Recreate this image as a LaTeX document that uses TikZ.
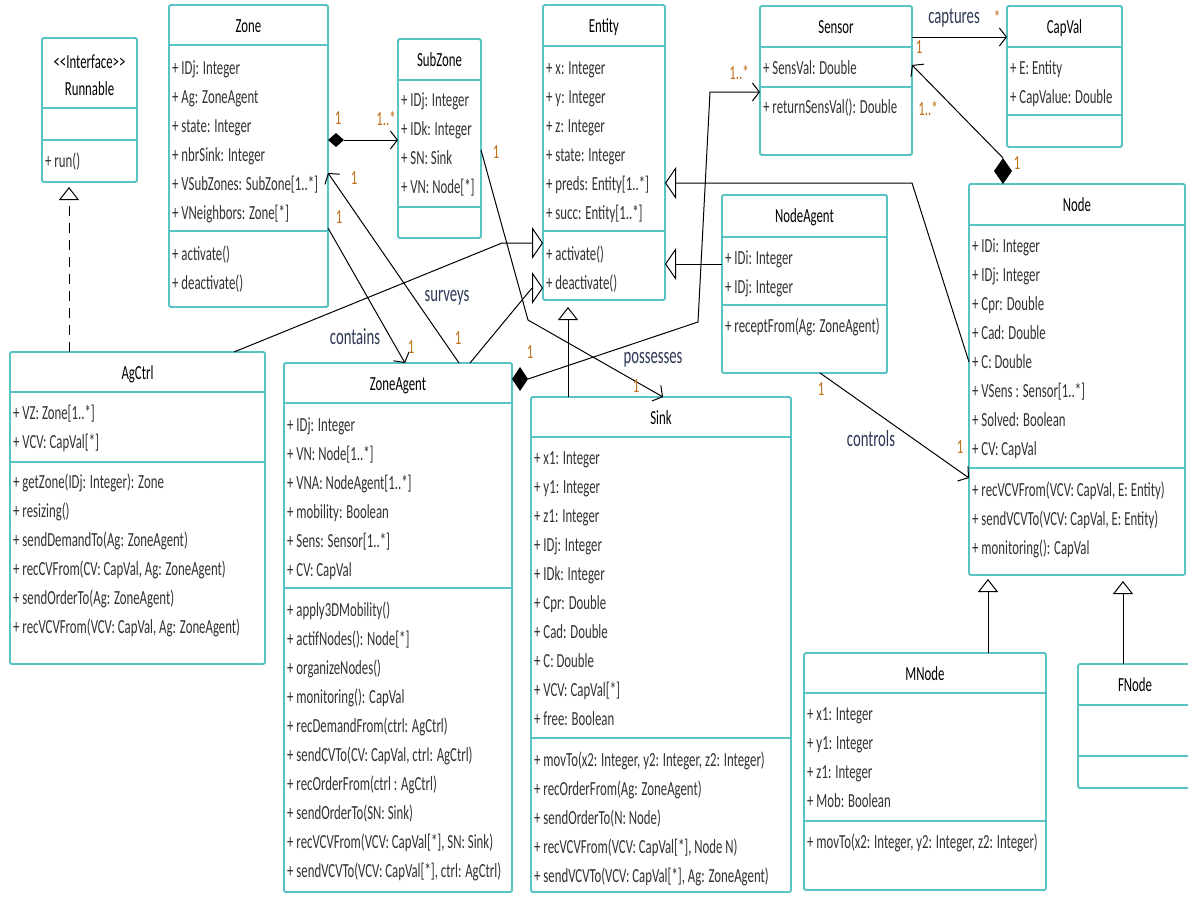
\documentclass[tikz,border=0pt]{standalone}
\usepackage{fontspec}
\setmainfont{Carlito}[FakeStretch=0.64]
\usetikzlibrary{arrows.meta}
\definecolor{boxc}{RGB}{90,196,196}
\definecolor{txtc}{RGB}{50,50,50}
\definecolor{multc}{RGB}{190,110,20}
\definecolor{lblc}{RGB}{45,55,85}
\tikzset{
  cbox/.style={draw=boxc, line width=1.8pt, rounded corners=1.5pt, inner sep=0pt, outer sep=0pt, fill=white},
  cdiv/.style={draw=boxc, line width=1.8pt},
  txt/.style={anchor=base west, inner sep=0pt, text=txtc, font=\fontsize{20}{22}\selectfont},
  ttl/.style={anchor=base, inner sep=0pt, text=black, font=\fontsize{20}{22}\selectfont},
  mult/.style={inner sep=0pt, text=multc, font=\fontsize{20}{22}\selectfont},
  lbl/.style={inner sep=0pt, text=lblc, font=\fontsize{23}{26}\selectfont},
  assoc/.style={line width=1pt, -{Straight Barb[length=7pt,width=18pt,line width=1pt]}},
  genh/.style={line width=1pt, -{Triangle[length=11pt,width=32pt,fill=white,line width=1pt]}},
  genv/.style={line width=1pt, -{Triangle[length=13pt,width=20pt,fill=white,line width=1pt]}},
  comp/.style={fill=black}
}
\newcommand\umlbox[8]{%
  \node[cbox, anchor=north west, minimum width={(#4-#2)*1pt}, minimum height={(#5-#3)*1pt}] (#1) at (#2,#3) {};
  \draw[cdiv] (#2,#7) -- (#4,#7);
  \draw[cdiv] (#2,#8) -- (#4,#8);
  \node[ttl] at ({(#2+#4)/2},{#3+27}) {#6};
}
\newcommand\rows[3]{%
  \foreach \t [count=\i from 0] in {#3} {\node[txt] at (#1,{#2+29*\i+6}) {\t};}
}
\begin{document}
\begin{tikzpicture}[x=1pt,y=-1pt]
\useasboundingbox (0,0) rectangle (1188,900);
\clip (0,0) rectangle (1188,900);
\fill[white] (0,0) rectangle (1188,900);

% ---------- classes ----------
\umlbox{runnable}{42}{38}{137}{182}{}{108}{140}
\node[ttl] at (89.5,68) {<\kern0pt<Interface>\kern0pt>};
\node[ttl] at (89.5,95) {Runnable};
\rows{45}{161}{{+ run()}}

\umlbox{zone}{169}{5}{328}{307}{Zone}{45}{231}
\rows{172}{68}{{+ IDj: Integer},{+ Ag: ZoneAgent},{+ state: Integer},{+ nbrSink: Integer},{+ VSubZones: SubZone[1..*]},{+ VNeighbors: Zone[*]}}
\rows{172}{254}{{+ activate()},{+ deactivate()}}

\umlbox{subzone}{398}{39}{481}{238}{SubZone}{80}{207}
\rows{401}{100}{{+ IDj: Integer},{+ IDk: Integer},{+ SN: Sink},{+ VN: Node[*]}}

\umlbox{entity}{543}{5}{665}{300}{Entity}{46}{231}
\rows{546}{68}{{+ x: Integer},{+ y: Integer},{+ z: Integer},{+ state: Integer},{+ preds: Entity[1..*]},{+ succ: Entity[1..*]}}
\rows{546}{254}{{+ activate()},{+ deactivate()}}

\umlbox{sensor}{760}{6}{912}{155}{Sensor}{47}{87}
\rows{763}{68}{{+ SensVal: Double}}
\rows{763}{107}{{+ returnSensVal(): Double}}

\umlbox{capval}{1007}{6}{1122}{147}{CapVal}{47}{115}
\rows{1010}{68}{{+ E: Entity},{+ CapValue: Double}}

\umlbox{nodeagent}{722}{195}{887}{373}{NodeAgent}{237}{305}
\rows{725}{258}{{+ IDi: Integer},{+ IDj: Integer}}
\rows{725}{326}{{+ receptFrom(Ag: ZoneAgent)}}

\umlbox{node}{969}{184}{1185}{575}{Node}{225}{468}
\rows{972}{246}{{+ IDi: Integer},{+ IDj: Integer},{+ Cpr: Double},{+ Cad: Double},{+ C: Double},{+ VSens : Sensor[1..*]},{+ Solved: Boolean},{+ CV: CapVal}}
\rows{972}{490}{{+ recVCVFrom(VCV: CapVal, E: Entity)},{+ sendVCVTo(VCV: CapVal, E: Entity)},{+ monitoring(): CapVal}}

\umlbox{agctrl}{10}{352}{265}{664}{AgCtrl}{392}{462}
\rows{13}{413}{{+ VZ: Zone[1..*]},{+ VCV: CapVal[*]}}
\rows{13}{482}{{+ getZone(IDj: Integer): Zone},{+ resizing()},{+ sendDemandTo(Ag: ZoneAgent)},{+ recCVFrom(CV: CapVal, Ag: ZoneAgent)},{+ sendOrderTo(Ag: ZoneAgent)},{+ recVCVFrom(VCV: CapVal, Ag: ZoneAgent)}}

\umlbox{zoneagent}{284}{363}{512}{892}{ZoneAgent}{403}{588}
\rows{287}{425}{{+ IDj: Integer},{+ VN: Node[1..*]},{+ VNA: NodeAgent[1..*]},{+ mobility: Boolean},{+ Sens: Sensor[1..*]},{+ CV: CapVal}}
\rows{287}{610}{{+ apply3DMobility()},{+ actifNodes(): Node[*]},{+ organizeNodes()},{+ monitoring(): CapVal},{+ recDemandFrom(ctrl: AgCtrl)},{+ sendCVTo(CV: CapVal, ctrl: AgCtrl)},{+ recOrderFrom(ctrl : AgCtrl)},{+ sendOrderTo(SN: Sink)},{+ recVCVFrom(VCV: CapVal[*], SN: Sink)},{+ sendVCVTo(VCV: CapVal[*], ctrl: AgCtrl)}}

\umlbox{sink}{531}{397}{791}{892}{Sink}{437}{738}
\rows{534}{458}{{+ x1: Integer},{+ y1: Integer},{+ z1: Integer},{+ IDj: Integer},{+ IDk: Integer},{+ Cpr: Double},{+ Cad: Double},{+ C: Double},{+ VCV: CapVal[*]},{+ free: Boolean}}
\rows{534}{760}{{+ movTo(x2: Integer, y2: Integer, z2: Integer)},{+ recOrderFrom(Ag: ZoneAgent)},{+ sendOrderTo(N: Node)},{+ recVCVFrom(VCV: CapVal[*], Node N)},{+ sendVCVTo(VCV: CapVal[*], Ag: ZoneAgent)}}

\umlbox{mnode}{804}{653}{1046}{890}{MNode}{693}{821}
\rows{807}{714}{{+ x1: Integer},{+ y1: Integer},{+ z1: Integer},{+ Mob: Boolean}}
\rows{807}{842}{{+ movTo(x2: Integer, y2: Integer, z2: Integer)}}

\umlbox{fnode}{1078}{664}{1192}{788}{FNode}{705}{756}

% ---------- connectors ----------
% Zone <>-> SubZone
\fill[comp] (zone.east |- 0,140) -- ++(8,-7) -- ++(8,7) -- ++(-8,7) -- cycle;
\draw[assoc] (344,140) -- (subzone.west |- 0,140);
% surveys
\draw[assoc] (zoneagent.north -| 459,0) -- (zone.east |- 0,173);
% contains
\draw[assoc] (zone.east |- 0,228) -- (zoneagent.north -| 405,0);
% possesses
\draw[assoc] (subzone.east |- 0,150) -- (528,320) -- (sink.north -| 663,0);
% ZoneAgent <>-> Sensor
\fill[comp] (zoneagent.east |- 0,379) -- ++(8,-12) -- ++(8,12) -- ++(-8,12) -- cycle;
\draw[assoc] (528,379) -- (698,322) -- (710,92) -- (sensor.west |- 0,92);
% captures
\draw[assoc] (sensor.east |- 0,37) -- (capval.west |- 0,37);
% Node <>-> Sensor
\fill[comp] (node.north -| 1003,0) -- ++(-9,-13) -- ++(9,-13) -- ++(9,13) -- cycle;
\draw[assoc] (1003,158) -- (sensor.east |- 0,65);
% controls
\draw[assoc] (nodeagent.south -| 820,0) -- (node.west |- 0,478);

% generalisations
\draw[genh] (agctrl.north -| 234,0) -- (502,243) -- (entity.west |- 0,243);
\draw[line width=1pt] (zoneagent.north -| 470,0) -- (532,288);
\draw[genh] (532,288) -- (entity.west |- 0,288);
\draw[genh] (nodeagent.west |- 0,264) -- (entity.east |- 0,264);
\draw[genh] (node.west |- 0,362) -- (912,183) -- (entity.east |- 0,183);
\draw[genv, shorten >=7pt] (sink.north -| 568,0) -- (entity.south -| 568,0);
\draw[genv, shorten >=4pt] (mnode.north -| 988,0) -- (node.south -| 988,0);
\draw[genv, shorten >=6pt] (fnode.north -| 1123,0) -- (node.south -| 1123,0);
\draw[genv, dash pattern=on 10pt off 7pt, shorten >=5pt] (agctrl.north -| 69,0) -- (runnable.south -| 69,0);

% ---------- multiplicities ----------
\node[mult] at (338,118) {1};
\node[mult] at (386,118) {1..*};
\node[mult] at (354,178) {1};
\node[mult] at (458,338) {1};
\node[mult] at (339,217) {1};
\node[mult] at (411,347) {1};
\node[mult] at (496,152) {1};
\node[mult] at (636,386) {1};
\node[mult] at (530,352) {1};
\node[mult] at (739,72) {1..*};
\node[mult] at (1017,163) {1};
\node[mult] at (928,108) {1..*};
\node[mult] at (997,17) {*};
\node[mult] at (919,47) {1};
\node[mult] at (821,389) {1};
\node[mult] at (960,447) {1};

% ---------- association labels ----------
\node[lbl] at (447,298) {surveys};
\node[lbl] at (355,337) {contains};
\node[lbl] at (653,360) {possesses};
\node[lbl] at (954,18) {captures};
\node[lbl] at (871,439) {controls};
\end{tikzpicture}
\end{document}
